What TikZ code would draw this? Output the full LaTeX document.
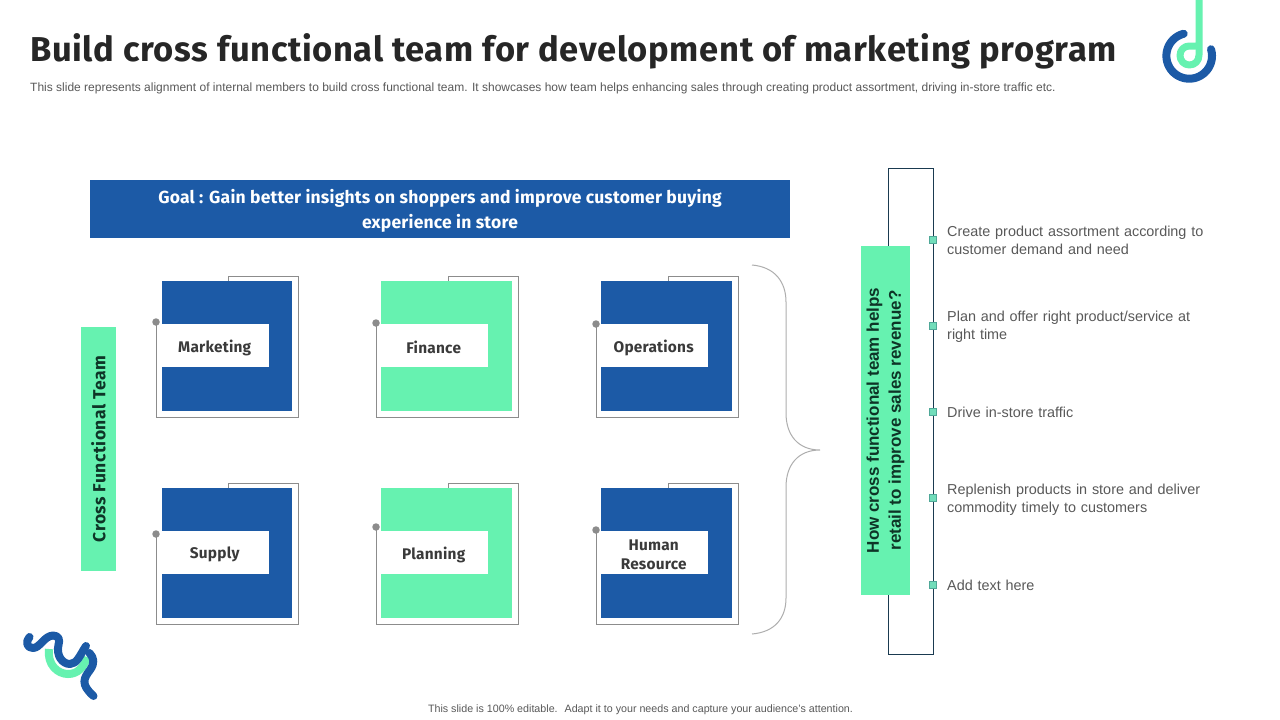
\documentclass[tikz,border=0pt]{standalone}
\usepackage{fontspec}
\setmainfont{Liberation Sans}
\newfontfamily\headfont{Fira Sans}
\definecolor{brandblue}{HTML}{1C5AA6}
\definecolor{brandgreen}{HTML}{66F2B0}
\definecolor{darkline}{HTML}{1A3A50}
\definecolor{darkgreen}{HTML}{0E3527}
\definecolor{outlinegray}{HTML}{8C8C8C}
\definecolor{bodygray}{HTML}{595959}
\definecolor{labelgray}{HTML}{3A3A3A}
\definecolor{sqfill}{HTML}{72DDBA}
\definecolor{sqline}{HTML}{4FA898}
\newcommand{\fs}[1]{\fontsize{#1}{#1}\selectfont}
\tikzset{
  x=1pt,y=-1pt,
  tileout/.style={draw=outlinegray,line width=0.9pt},
  tiledot/.style={circle,fill=outlinegray,inner sep=0pt,minimum size=7.5pt},
  tilebox/.style={fill=white,inner sep=0pt,minimum width=112pt,minimum height=43pt,anchor=north west},
  tilelabel/.style={inner sep=0pt,align=center,font=\headfont\fs{15.4}\bfseries\addfontfeature{LetterSpace=1.5},text=labelgray,xshift=1.5pt,yshift=-2pt},
  sq/.style={rectangle,draw=sqline,line width=0.6pt,fill=sqfill,inner sep=0pt,minimum size=7pt},
  point/.style={anchor=west,align=left,inner sep=0pt,font=\fs{14.4},text=bodygray,text width=275pt},
  panel/.style={fill=brandgreen,inner sep=0pt,align=center,text=darkgreen},
  logostroke/.style={line width=8pt,line cap=round,line join=round}
}
\newcommand{\tile}[7]{% name, x, y, fill, dot y-offset, fill x-offset, text
  \path[fill=#4] (#2+#6,#3+5) rectangle (#2+136,#3+135);
  \node[tilebox] (#1) at (#2+#6-5,#3+48) {};
  \node[tilelabel] (#1t) at (#1.center) {#7};
  \coordinate (#1c) at (#2,#3+#5);
  \draw[tileout] (#1c) -- (#2,#3+141) -- (#2+142,#3+141) -- (#2+142,#3) -- (#2+72,#3) -- (#2+72,#3+5);
  \node[tiledot] at (#1c) {};
}
\begin{document}
\begin{tikzpicture}
\useasboundingbox (0,0) rectangle (1280,720);
\path[fill=white] (0,0) rectangle (1280,720);
\node[anchor=west,inner sep=0pt,font=\headfont\fs{34.5}\bfseries\addfontfeature{LetterSpace=1.9},text=black!85] (title) at (30,51) {Build cross functional team for development of marketing program};
\node[anchor=west,inner sep=0pt,font=\fs{12},text=bodygray] (sub) at (30,88) {This slide represents alignment of internal members to build cross functional team. It showcases how team helps enhancing sales through creating product assortment, driving in-store traffic etc.};
\node[fill=brandblue,inner sep=0pt,minimum width=700pt,minimum height=58pt,anchor=north west] (goalbox) at (90,180) {};
\node[align=center,text=white,inner sep=0pt,font=\headfont\fs{17.5}\bfseries\addfontfeature{LetterSpace=1.2}] (goal) at (440,211) {Goal : Gain better insights on shoppers and improve customer buying\\[6pt]experience in store};
\node[panel,minimum width=244pt,minimum height=35pt,rotate=90,font=\headfont\fs{17.5}\bfseries\addfontfeature{LetterSpace=3}] (cft) at (98.5,449) {Cross Functional Team};
\tile{mk}{156}{276}{brandblue}{46}{6}{Marketing}
\tile{fi}{376}{276}{brandgreen}{47}{5}{Finance}
\tile{op}{596}{276}{brandblue}{48}{5}{Operations}
\tile{su}{156}{483}{brandblue}{51}{6}{Supply}
\tile{pl}{376}{483}{brandgreen}{44}{5}{Planning}
\tile{hr}{596}{483}{brandblue}{47}{5}{Human\\[3.6pt]Resource}
\draw[outlinegray!70,line width=1pt] (752,265) .. controls (775,267) and (786,282) .. (786,302) -- (786,413) .. controls (786,435) and (798,450) .. (820,450) .. controls (798,450) and (786,465) .. (786,487) -- (786,598) .. controls (786,618) and (775,632) .. (752,634);
\node[draw=darkline,line width=0.9pt,inner sep=0pt,minimum width=45pt,minimum height=486pt,anchor=north west] (bracket) at (887.9,167.9) {};
\node[panel,minimum width=349pt,minimum height=49pt,rotate=90,font=\fs{17}\bfseries] (how) at (885.5,420.5) {How cross functional team helps\\[5pt]retail to improve sales revenue?};
\foreach \n/\y in {a/239.5,b/325.5,c/411.5,d/498,e/584.5}{\node[sq] (\n) at (932.5,\y) {};}
\node[point] (ta) at (947,240) {Create product assortment according to\\[3.5pt]customer demand and need};
\node[point] (tb) at (947,326.5) {Plan and offer right product/service at\\[3.5pt]right time};
\node[point] (tc) at (947,412) {Drive in-store traffic};
\node[point] (td) at (947,499.5) {Replenish products in store and deliver\\[3.5pt]commodity timely to customers};
\node[point] (te) at (947,585) {Add text here};
\node[inner sep=0pt,font=\fs{10.7},text=bodygray] (foot) at (640.5,710) {This slide is 100\% editable.~ Adapt it to your needs and capture your audience's attention.};
% top logo
\draw[brandblue,logostroke] plot[domain=104:377,samples=70,smooth] ({1189.2+22.8*cos(\x)},{55.9-22.8*sin(\x)});
\draw[brandgreen,line width=7pt,line cap=round,line join=round] (1199,-4) -- (1199,55) .. controls (1199,61) and (1195,65) .. (1189.3,65) .. controls (1184,65) and (1180,60.5) .. (1180,55.5) .. controls (1180,50) and (1184,46) .. (1189.3,46) -- (1195,46);
% bottom logo
\draw[brandgreen,line width=8pt] (49,649) .. controls (47,665) and (58,674) .. (68,674) .. controls (78,674) and (84,667) .. (87,657);
\draw[brandblue,logostroke] (29.5,637) .. controls (25,642) and (27,648) .. (33,648) .. controls (40,648) and (44,636) .. (53,635.5) .. controls (59,635.5) and (60,640) .. (58.5,645) .. controls (56,655) and (62,664) .. (70,664) .. controls (77,664) and (80,655) .. (86,646);
\draw[brandblue,logostroke] (89.5,653) .. controls (94,658) and (95,663) .. (90,670) .. controls (84,678) and (80,684) .. (93.5,696);
\end{tikzpicture}
\end{document}
